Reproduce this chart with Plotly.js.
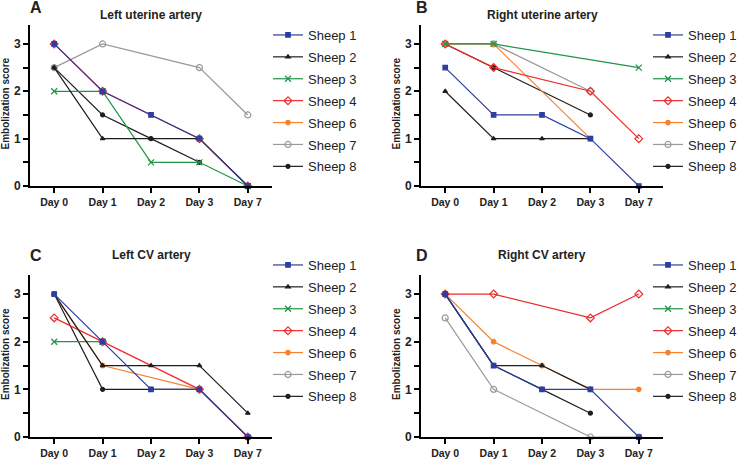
<!DOCTYPE html>
<html>
<head>
<meta charset="utf-8">
<script src="https://cdn.plot.ly/plotly-3.0.1.min.js"></script>
<style>html,body{margin:0;padding:0;background:#fff}#chart{width:753px;height:463px}</style>
</head>
<body>
<div id="chart"></div>
<script>
// ---- data ----
const days = ["Day 0", "Day 1", "Day 2", "Day 3", "Day 7"];
const sheepNames = ["Sheep 1", "Sheep 2", "Sheep 3", "Sheep 4", "Sheep 6", "Sheep 7", "Sheep 8"];
const yTickVals = [0, 0.5, 1, 1.5, 2, 2.5, 3];
const yTickText = ["0", "", "1", "", "2", "", "3"];
const panelTitles = ["Left uterine artery", "Right uterine artery", "Left CV artery", "Right CV artery"];
const panelLetters = ["A", "B", "C", "D"];
const yAxisTitle = "Embolization score";

// scores per sheep (order as sheepNames), null = not measured
const leftUterine = [
  [3, 2, 1.5, 1, 0],          // Sheep 1
  [2.5, 1, 1, 1, 0],          // Sheep 2
  [2, 2, 0.5, 0.5, 0],        // Sheep 3
  [3, 2, null, 1, 0],         // Sheep 4
  [null, null, null, null, null], // Sheep 6
  [2.5, 3, null, 2.5, 1.5],   // Sheep 7
  [2.5, 1.5, 1, 0.5, null]    // Sheep 8
];
const rightUterine = [
  [2.5, 1.5, 1.5, 1, 0],
  [2, 1, 1, 1, null],
  [3, 3, null, null, 2.5],
  [3, 2.5, null, 2, 1],
  [3, 3, null, 1, null],
  [3, 3, null, 2, null],
  [3, 2.5, null, 1.5, null]
];
const leftCV = [
  [3, 2, 1, 1, 0],
  [3, 1.5, 1.5, 1.5, 0.5],
  [2, 2, null, null, null],
  [2.5, 2, null, 1, 0],
  [3, 1.5, null, 1, null],
  [null, null, null, null, null],
  [3, 1, 1, 1, 0]
];
const rightCV = [
  [3, 1.5, 1, 1, 0],
  [3, 1.5, 1.5, 1, null],
  [null, null, null, null, null],
  [3, 3, null, 2.5, 3],
  [3, 2, 1.5, 1, 1],
  [2.5, 1, null, 0, 0],
  [3, 1.5, 1, 0.5, null]
];

// ---- styles ----
const colors = ["#2d3f9e", "#1e1e1e", "#1f9447", "#ee2b2b", "#f5812c", "#999999", "#1e1e1e"];
const symbols = ["square", "triangle-up", "x-thin-open", "diamond-open", "circle", "circle-open", "circle"];
const msizes = [4.5, 4, 6, 6, 4.5, 6, 4];

const panels = [leftUterine, rightUterine, leftCV, rightCV];
const FONT = "Liberation Sans, Arial, sans-serif";
const W = 753, H = 463;
const px = v => v / W;
const py = v => 1 - v / H;

// plot area geometry (pixels)
const xDom = [[30, 272], [421, 663], [30, 272], [421, 663]];
const yTop = [25, 25, 275, 275];
const yBot = [186, 186, 437, 437];

const traces = [];
panels.forEach((data, p) => {
  const ax = p === 0 ? "" : String(p + 1);
  // draw Sheep 1 last so it sits on top; legend order kept by legendrank
  for (let s = data.length - 1; s >= 0; s--) {
    const vals = data[s];
    traces.push({
      type: "scatter",
      mode: "lines+markers",
      x: days,
      y: vals,
      name: sheepNames[s],
      xaxis: "x" + ax,
      yaxis: "y" + ax,
      legend: "legend" + ax,
      legendrank: s + 1,
      legendgroup: "p" + p + "s" + s,
      connectgaps: true,
      cliponaxis: false,
      line: {color: colors[s], width: 1.2},
      marker: {symbol: symbols[s], size: msizes[s], color: colors[s],
               line: {color: colors[s], width: 1.2}}
    });
  }
});

const layout = {
  width: W, height: H,
  margin: {l: 0, r: 0, t: 0, b: 0},
  paper_bgcolor: "#fff", plot_bgcolor: "#fff",
  font: {family: FONT, color: "#222"},
  showlegend: true,
  annotations: []
};

for (let p = 0; p < 4; p++) {
  const ax = p === 0 ? "" : String(p + 1);
  layout["xaxis" + ax] = {
    domain: [px(xDom[p][0]), px(xDom[p][1])],
    anchor: "y" + ax,
    type: "category",
    categoryarray: days,
    range: [-0.5, 4.5],
    showline: true, linewidth: 2, linecolor: "#000",
    ticks: "outside", ticklen: 5, tickwidth: 2, tickcolor: "#000",
    showgrid: false, zeroline: false,
    tickfont: {family: FONT, size: 10.5, weight: "bold", color: "#222"}
  };
  layout["yaxis" + ax] = {
    domain: [py(yBot[p]), py(yTop[p])],
    anchor: "x" + ax,
    range: [0, 3.4],
    tickmode: "array", tickvals: yTickVals, ticktext: yTickText,
    showline: true, linewidth: 2, linecolor: "#000",
    ticks: "outside", ticklen: 5, tickwidth: 2, tickcolor: "#000",
    showgrid: false, zeroline: false,
    tickfont: {family: FONT, size: 12, weight: "bold", color: "#222"}
  };
  const legKey = "legend" + ax;
  const legX = p % 2 === 0 ? 268 : 648;
  const legY = p < 2 ? 20 : 250;
  layout[legKey] = {
    x: px(legX), y: py(legY), xanchor: "left", yanchor: "top",
    traceorder: "grouped", tracegroupgap: 2,
    bgcolor: "rgba(0,0,0,0)", borderwidth: 0,
    font: {family: FONT, size: 13, color: "#222"},
    itemwidth: 30
  };
  // panel title
  layout.annotations.push({
    xref: "paper", yref: "paper",
    x: px(p % 2 === 0 ? 151 : 542), y: py(p < 2 ? 15 : 255),
    text: "<b>" + panelTitles[p] + "</b>", showarrow: false,
    xanchor: "center", yanchor: "middle",
    font: {family: FONT, size: 12, color: "#222"}
  });
  // panel letter
  layout.annotations.push({
    xref: "paper", yref: "paper",
    x: px(p % 2 === 0 ? 36 : 422), y: py(p < 2 ? 8 : 255),
    text: "<b>" + panelLetters[p] + "</b>", showarrow: false,
    xanchor: "center", yanchor: "middle",
    font: {family: FONT, size: 16, color: "#222"}
  });
  // y axis title
  layout.annotations.push({
    xref: "paper", yref: "paper",
    x: px(xDom[p][0] - 25), y: py((yTop[p] + yBot[p]) / 2 - 2),
    text: "<b>" + yAxisTitle + "</b>", showarrow: false, textangle: -90,
    xanchor: "center", yanchor: "middle",
    font: {family: FONT, size: 10, color: "#222"}
  });
}

Plotly.newPlot("chart", traces, layout, {staticPlot: true, displayModeBar: false});
</script>
</body>
</html>
